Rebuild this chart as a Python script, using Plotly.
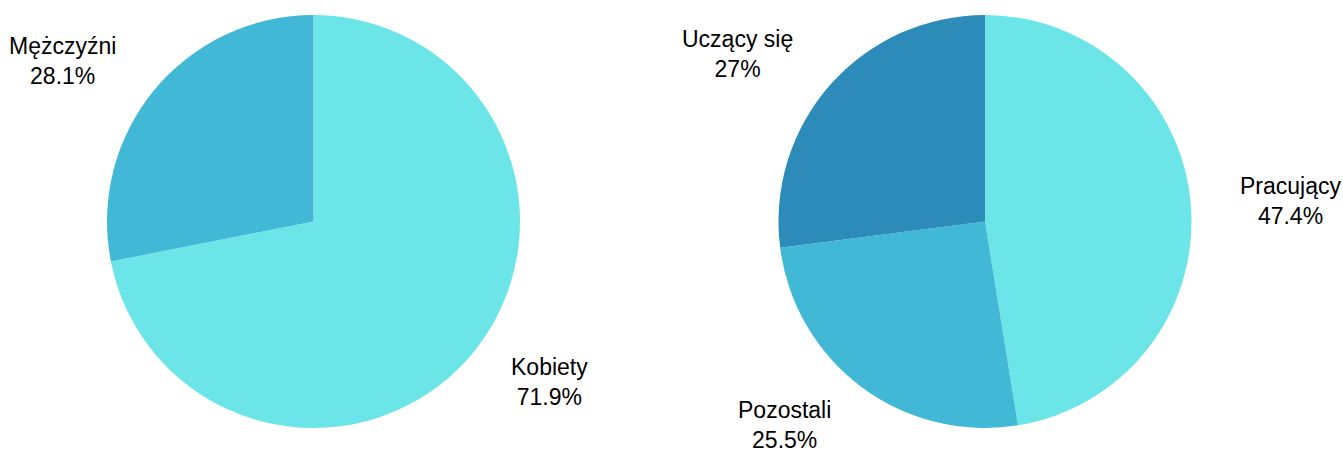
import math
import plotly.graph_objects as go

# Gender split
gender_labels = ["Kobiety", "Mężczyźni"]
gender_values = [71.9, 28.1]

# Occupation split
status_labels = ["Pracujący", "Pozostali", "Uczący się"]
status_values = [47.4, 25.5, 27]

gender_colors = ["#6CE5E8", "#41B8D5"]
status_colors = ["#6CE5E8", "#41B8D5", "#2D8BBA"]

W, H = 1343, 450
FONT = dict(family="Liberation Sans, Arial, sans-serif", size=23, color="#000000")

# Pie placement in pixels: (centre x, centre y, radius)
pies = [
    dict(labels=gender_labels, values=gender_values, colors=gender_colors, cx=313.5, cy=221.5, r=206.5),
    dict(labels=status_labels, values=status_values, colors=status_colors, cx=985.0, cy=221.5, r=206.5),
]
LABEL_OFFSET = 47  # gap between pie edge and label anchor, px


def fmt(v):
    return f"{v:g}%"


fig = go.Figure()
annotations = []
for p in pies:
    cx, cy, r = p["cx"], p["cy"], p["r"]
    fig.add_trace(go.Pie(
        labels=p["labels"],
        values=p["values"],
        marker=dict(colors=p["colors"], line=dict(width=0)),
        sort=False,
        direction="clockwise",
        rotation=0,
        textinfo="none",
        hoverinfo="label+percent",
        showlegend=False,
        domain=dict(x=[(cx - r) / W, (cx + r) / W], y=[1 - (cy + r) / H, 1 - (cy - r) / H]),
    ))
    total = sum(p["values"])
    acc = 0.0
    for lab, val in zip(p["labels"], p["values"]):
        mid = (acc + val / 2) / total * 2 * math.pi
        acc += val
        rl = r + LABEL_OFFSET
        px = cx + rl * math.sin(mid)
        py = cy - rl * math.cos(mid)
        annotations.append(dict(
            x=px / W, y=1 - py / H, xref="paper", yref="paper",
            text=f"{lab}<br>{fmt(val)}",
            showarrow=False,
            xanchor="left" if math.sin(mid) >= 0 else "right",
            yanchor="middle",
            align="center",
            font=FONT,
        ))

fig.update_layout(
    width=W, height=H,
    margin=dict(l=0, r=0, t=0, b=0),
    paper_bgcolor="white",
    plot_bgcolor="white",
    annotations=annotations,
    font=FONT,
)

fig.write_html("out.html")
